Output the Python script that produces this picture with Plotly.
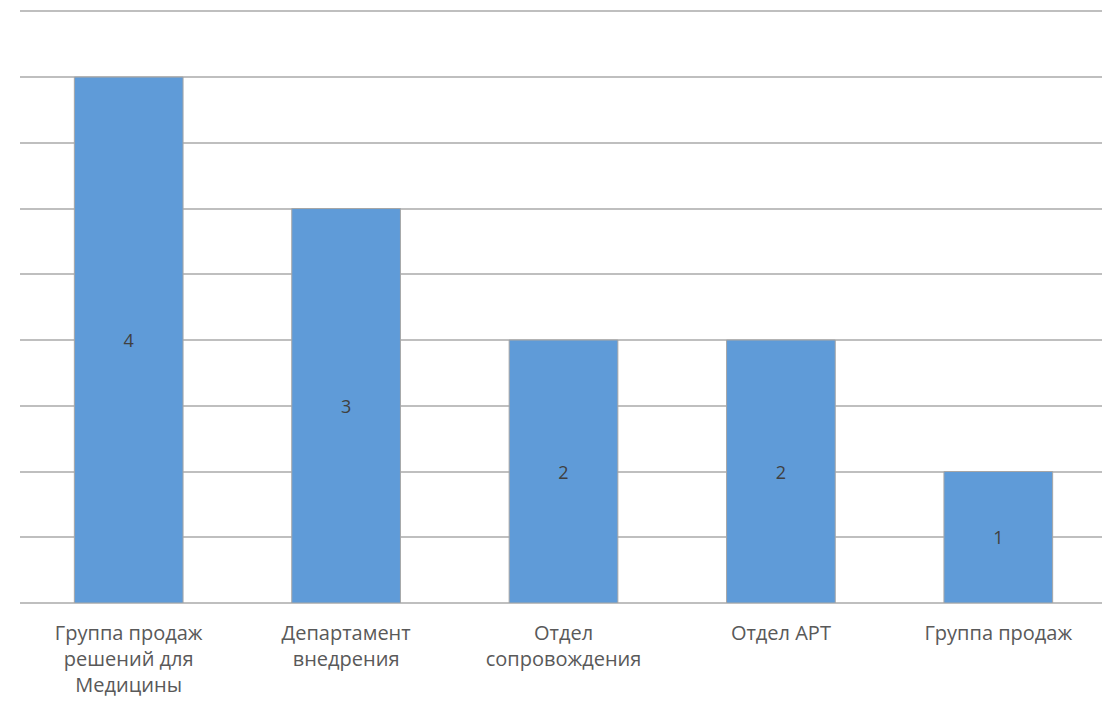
import plotly.graph_objects as go

categories = ["Группа продаж решений для Медицины", "Департамент внедрения",
              "Отдел сопровождения", "Отдел АРТ", "Группа продаж"]
tick_labels = ["Группа продаж<br>решений для<br>Медицины", "Департамент<br>внедрения",
               "Отдел<br>сопровождения", "Отдел АРТ", "Группа продаж"]
values = [4, 3, 2, 2, 1]

fig = go.Figure(go.Bar(
    x=categories, y=values,
    text=[str(v) for v in values],
    textposition="inside", insidetextanchor="middle",
    textfont=dict(color="#404040", size=18, family="Open Sans"),
    marker=dict(color="#5f9bd8", line=dict(color="#a6a6a6", width=1)),
    width=0.5,
))

fig.update_layout(
    width=1110, height=701,
    margin=dict(l=12, r=11, t=2, b=106),
    paper_bgcolor="white", plot_bgcolor="white",
    showlegend=False,
    font=dict(family="Open Sans", color="#595959"),
    uniformtext=dict(minsize=18, mode="show"),
)
fig.update_xaxes(
    tickmode="array", tickvals=categories, ticktext=tick_labels,
    tickfont=dict(size=20, color="#595959", family="Open Sans"),
    showline=False, showgrid=False, ticks="", ticklen=0,
    ticklabelstandoff=16,
)
fig.update_yaxes(
    range=[0, 4.51], dtick=0.5, showticklabels=False,
    showgrid=True, gridcolor="#bfbfbf", gridwidth=2,
    zeroline=True, zerolinecolor="#bfbfbf", zerolinewidth=2,
    showline=False,
)

fig.write_html("out.html")
